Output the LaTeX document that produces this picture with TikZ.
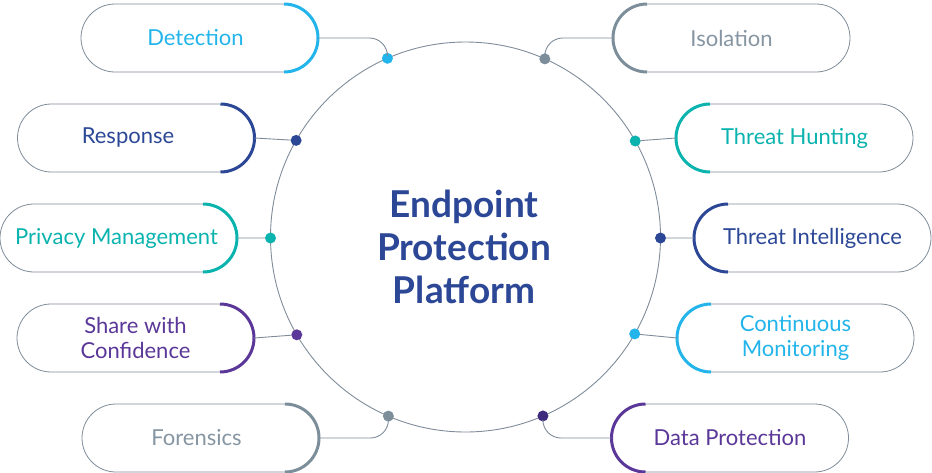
\documentclass[tikz,border=0pt]{standalone}
\usepackage{fontspec}
\setmainfont{Lato}
\usetikzlibrary{shapes.misc}
\definecolor{clblue}{HTML}{22B4EA}
\definecolor{cdblue}{HTML}{2B4796}
\definecolor{cteal}{HTML}{0AB3AE}
\definecolor{cgray}{HTML}{7D8E9B}
\definecolor{cgtext}{HTML}{8595A2}
\definecolor{cpurple}{HTML}{5A3798}
\definecolor{cdpurple}{HTML}{3E2B7E}
\definecolor{linec}{HTML}{7F8C99}
\tikzset{
  pill/.style={rounded rectangle, draw=linec, line width=0.8pt, minimum width=237pt,
    minimum height=68pt, inner sep=0pt, outer sep=0pt, align=center,
    font=\fontsize{22}{25}\selectfont},
  capline/.style={line width=3pt},
  conn/.style={draw=linec, line width=0.9pt},
  dotn/.style={circle, inner sep=0pt, outer sep=0pt, minimum size=11pt},
  ring/.style={circle, draw=linec, line width=0.9pt, minimum size=390pt, inner sep=0pt, outer sep=0pt},
  title/.style={align=center, text=cdblue, font=\fontsize{37}{43.3}\selectfont\bfseries}
}
\begin{document}
\begin{tikzpicture}[x=1pt,y=1pt]
\useasboundingbox (0,0) rectangle (932,-472);
% central ring
\node[ring] (c) at (465.5,-237) {};
\node[title] (t) at (464,-247) {Endpoint\\Protection\\Platform};
% pills
\node[pill, text=clblue]  (det) at (199.5,-38)  {Detection\hspace*{8pt}};
\node[pill, text=cgtext]  (iso) at (731.5,-38)  {Isolation};
\node[pill, text=cdblue]  (res) at (136,-138)   {Response\hspace*{16pt}};
\node[pill, text=cteal]   (thu) at (794.5,-138) {Threat Hunting};
\node[pill, text=cteal]   (pri) at (118.5,-238) {Privacy Management\hspace*{4pt}};
\node[pill, text=cdblue]  (tin) at (812.5,-238) {Threat Intelligence};
\node[pill, text=cpurple] (sha) at (135.5,-338) {Share with\\Confidence};
\node[pill, text=clblue]  (con) at (795.5,-338) {Continuous\\Monitoring};
\node[pill, text=cgtext]  (for) at (200.5,-438) {Forensics\hspace*{8pt}};
\node[pill, text=cpurple] (dpr) at (730,-438)   {Data Protection};
% coloured end arcs (right side)
\draw[capline, clblue]  ([shift={(-34,34)}]det.east) arc[start angle=90, end angle=-90, radius=34];
\draw[capline, cdblue]  ([shift={(-34,34)}]res.east) arc[start angle=90, end angle=-90, radius=34];
\draw[capline, cteal]   ([shift={(-34,34)}]pri.east) arc[start angle=90, end angle=-90, radius=34];
\draw[capline, cpurple] ([shift={(-34,34)}]sha.east) arc[start angle=90, end angle=-90, radius=34];
\draw[capline, cgray]   ([shift={(-34,34)}]for.east) arc[start angle=90, end angle=-90, radius=34];
% coloured end arcs (left side)
\draw[capline, cgray]   ([shift={(34,34)}]iso.west) arc[start angle=90, end angle=270, radius=34];
\draw[capline, cteal]   ([shift={(34,34)}]thu.west) arc[start angle=90, end angle=270, radius=34];
\draw[capline, cdblue]  ([shift={(34,34)}]tin.west) arc[start angle=90, end angle=270, radius=34];
\draw[capline, clblue]  ([shift={(34,34)}]con.west) arc[start angle=90, end angle=270, radius=34];
\draw[capline, cpurple] ([shift={(34,34)}]dpr.west) arc[start angle=90, end angle=270, radius=34];
% dots on the ring
\path (c.center) ++(113.6:195) node[dotn, fill=clblue]   (p1) {};
\path (c.center) ++(66:195)    node[dotn, fill=cgray]    (p2) {};
\path (c.center) ++(150.3:195) node[dotn, fill=cdblue]   (p3) {};
\path (c.center) ++(29.5:195)  node[dotn, fill=cteal]    (p4) {};
\path (c.center) ++(180.3:195) node[dotn, fill=cteal]    (p5) {};
\path (c.center) ++(-0.3:195)  node[dotn, fill=cdblue]   (p6) {};
\path (c.center) ++(210.1:195) node[dotn, fill=cpurple]  (p7) {};
\path (c.center) ++(-29.8:195) node[dotn, fill=clblue]   (p8) {};
\path (c.center) ++(246.7:195) node[dotn, fill=cgray]    (p9) {};
\path (c.center) ++(293.4:195) node[dotn, fill=cdpurple] (p10) {};
% connectors
\draw[conn, rounded corners=18pt] (det.east) -| (p1);
\draw[conn, rounded corners=18pt] (iso.west) -| (p2);
\draw[conn] (res.east) -- (p3);
\draw[conn] (thu.west) -- (p4);
\draw[conn] (pri.east) -- (p5);
\draw[conn] (tin.west) -- (p6);
\draw[conn] (sha.east) -- (p7);
\draw[conn] (con.west) -- (p8);
\draw[conn, rounded corners=18pt] (for.east) -| (p9);
\draw[conn, rounded corners=18pt] (dpr.west) -| (p10);
\end{tikzpicture}
\end{document}
